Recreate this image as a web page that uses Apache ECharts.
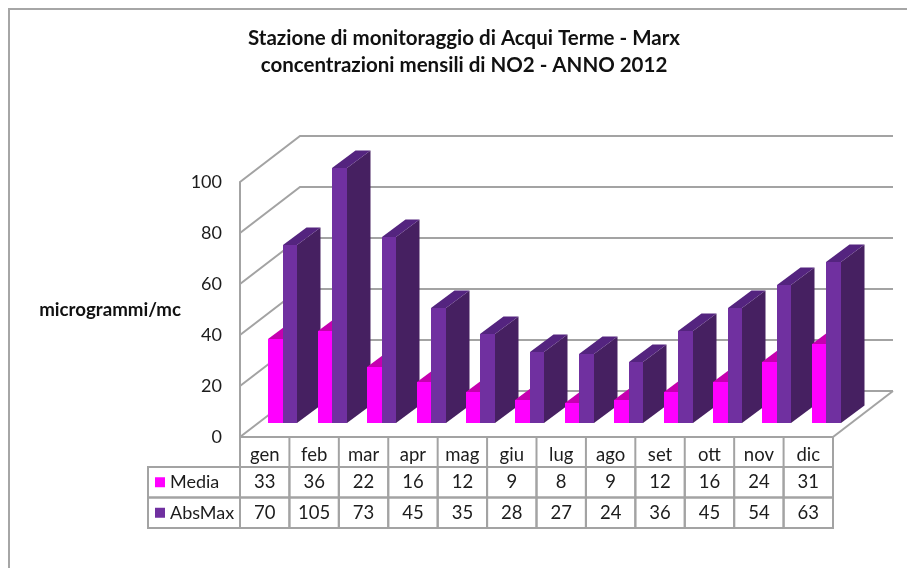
<!DOCTYPE html>
<html>
<head>
<meta charset="utf-8">
<style>html,body{margin:0;padding:0;background:#fff}#chart{width:907px;height:568px}</style>
<script src="https://cdn.jsdelivr.net/npm/echarts@6/dist/echarts.min.js"></script>
</head>
<body>
<div id="chart"></div>
<script>
// Monthly NO2 concentrations, Acqui Terme - Marx station, 2012
const months = ['gen','feb','mar','apr','mag','giu','lug','ago','set','ott','nov','dic'];
const media = [33,36,22,16,12,9,8,9,12,16,24,31];
const absMax = [70,105,73,45,35,28,27,24,36,45,54,63];
const yTicks = [0,20,40,60,80,100];
const titleLines = ['Stazione di monitoraggio di Acqui Terme - Marx','concentrazioni mensili di NO2 - ANNO 2012'];
const yName = 'microgrammi/mc';
const rowNames = ['Media','AbsMax'];

const FONT = 'Lato';
const GREY = '#a3a3a3';
const TEXT = '#1c1c1c';
const AXIS_MAX = 100;

// Depth of the box and of the bars inside it, in pixels
const WALL_DX = 60, WALL_DY = -46;
const BAR_DX = 23.5, BAR_DY = -17.5;
const BAR_LIFT = 14;
const BAR_W = 14.5;
const BAR_START = 28.3;

const PALETTE = {
  Media: {front:'#ff00ff', top:'#c600b0', side:'#b000a0'},
  AbsMax: {front:'#7030a0', top:'#54247f', side:'#462061'}
};

// One prism: front face, then side and top faces receding up and to the right.
// Edges snap to whole pixels so no seam shows between faces.
// Bars taller than the axis are cut off at its maximum.
function barRenderer(name, slot, order) {
  const c = PALETTE[name];
  return function (params, api) {
    const i = api.value(0);
    const v = Math.min(api.value(1), AXIS_MAX);
    const band = api.size([1, 0])[0];
    const start = api.coord([i, 0])[0] - band / 2 + BAR_START + slot * BAR_W;
    const left = Math.round(start);
    const r = Math.round(start + BAR_W);
    const base = Math.round(api.coord([i, 0])[1] - BAR_LIFT);
    const top = Math.round(api.coord([i, v])[1] - BAR_LIFT);
    const z2 = i * 10 + order;
    return {
      type: 'group',
      children: [
        {type:'polygon', z2, shape:{points:[[r,top],[r+BAR_DX,top+BAR_DY],[r+BAR_DX,base+BAR_DY],[r,base]]}, style:{fill:c.side}},
        {type:'polygon', z2, shape:{points:[[left,top],[left+BAR_DX,top+BAR_DY],[r+BAR_DX,top+BAR_DY],[r,top]]}, style:{fill:c.top}},
        {type:'rect', z2, shape:{x:left,y:top,width:r-left,height:base-top}, style:{fill:c.front}}
      ]
    };
  };
}

// Gridlines wrap from the front axis onto the back wall
function renderWall(params, api) {
  const p = api.coord([0, api.value(0)]);
  const band = api.size([1, 0])[0];
  const x0 = p[0] - band / 2;
  const x1 = x0 + band * months.length + WALL_DX;
  return {
    type: 'polyline', z2: -1,
    shape: {points: [[x0, p[1]], [x0 + WALL_DX, p[1] + WALL_DY], [x1, p[1] + WALL_DY]]},
    style: {stroke: GREY, lineWidth: 2, fill: 'none'}
  };
}

// Right edge of the floor
function renderFloorEdge(params, api) {
  const band = api.size([1, 0])[0];
  const p = api.coord([months.length - 1, 0]);
  const x = p[0] + band / 2;
  return {type:'line', z2:-1, shape:{x1:x,y1:p[1],x2:x+WALL_DX,y2:p[1]+WALL_DY}, style:{stroke:GREY,lineWidth:2}};
}

// Data table under the plot
const ROW_TOP = 30, ROW_H = 30.5, HEAD_W = 92;
function renderCell(rowIndex, values) {
  return function (params, api) {
    const i = api.value(0);
    const p = api.coord([i, 0]);
    const band = api.size([1, 0])[0];
    const y = p[1] + ROW_TOP + rowIndex * ROW_H;
    return {
      type: 'group',
      children: [
        {type:'rect', shape:{x:p[0]-band/2,y,width:band,height:ROW_H}, style:{fill:'none',stroke:GREY,lineWidth:2}},
        {type:'text', style:{x:p[0],y:y+ROW_H/2,text:String(values[i]),fill:TEXT,font:'18.5px '+FONT,textAlign:'center',textVerticalAlign:'middle'}}
      ]
    };
  };
}
// Vertical dividers around the month names
function renderDivider(params, api) {
  const i = api.value(0);
  const p = api.coord([i, 0]);
  const band = api.size([1, 0])[0];
  const line = x => ({type:'line', shape:{x1:x,y1:p[1],x2:x,y2:p[1]+ROW_TOP}, style:{stroke:GREY,lineWidth:2}});
  const children = [line(p[0] + band / 2)];
  if (i === 0) children.push(line(p[0] - band / 2));
  return {type:'group', children};
}
// Row headers with colour keys, left of the first month
function renderRowHead(params, api) {
  const p = api.coord([0, 0]);
  const band = api.size([1, 0])[0];
  const x0 = p[0] - band / 2 - HEAD_W;
  const k = api.value(0);
  const y = p[1] + ROW_TOP + k * ROW_H;
  const name = rowNames[k];
  return {
    type: 'group',
    children: [
      {type:'rect', shape:{x:x0,y,width:HEAD_W,height:ROW_H}, style:{fill:'none',stroke:GREY,lineWidth:2}},
      {type:'rect', shape:{x:x0+7,y:y+ROW_H/2-5,width:10,height:10}, style:{fill:PALETTE[name].front}},
      {type:'text', style:{x:x0+22,y:y+ROW_H/2,text:name,fill:TEXT,font:'18px '+FONT,textAlign:'left',textVerticalAlign:'middle'}}
    ]
  };
}

const monthIdx = months.map((m, i) => [i]);
const custom = (renderItem, data) => ({type:'custom', renderItem, data, clip:false, silent:true, animation:false});

const chart = echarts.init(document.getElementById('chart'), null, {renderer:'canvas'});
chart.setOption({
  animation: false,
  backgroundColor: '#fff',
  title: {
    text: titleLines.join('\n'),
    left: 459, top: 20, textAlign: 'center',
    textStyle: {fontFamily: FONT, fontWeight: 'bold', fontSize: 20.5, lineHeight: 27, color: '#111'}
  },
  grid: {left: 240, right: 74, top: 182, bottom: 131},
  xAxis: {
    type: 'category', data: months,
    axisLine: {lineStyle: {color: GREY, width: 2}},
    axisTick: {show: false},
    axisLabel: {fontFamily: FONT, fontSize: 18.5, color: TEXT, margin: 9},
    splitLine: {show: false}
  },
  yAxis: {
    type: 'value', min: 0, max: AXIS_MAX, interval: 20,
    name: yName, nameLocation: 'middle', nameRotate: 0, nameGap: 59,
    nameTextStyle: {fontFamily: FONT, fontWeight: 'bold', fontSize: 18.7, color: '#111'},
    axisLine: {show: true, lineStyle: {color: GREY, width: 2}},
    axisTick: {show: false},
    axisLabel: {fontFamily: FONT, fontSize: 18, color: TEXT, margin: 18},
    splitLine: {show: false}
  },
  graphic: [
    {type:'polyline', silent:true, shape:{points:[[9,568],[9,9],[907,9]]}, style:{stroke:'#a6a6a6',lineWidth:2,fill:'none'}}
  ],
  series: [
    custom(renderWall, yTicks.map(t => [t])),
    custom(renderFloorEdge, [[0]]),
    custom(barRenderer('Media', 0, 0), media.map((v, i) => [i, v])),
    custom(barRenderer('AbsMax', 1, 1), absMax.map((v, i) => [i, v])),
    custom(renderDivider, monthIdx),
    custom(renderCell(0, media), monthIdx),
    custom(renderCell(1, absMax), monthIdx),
    custom(renderRowHead, rowNames.map((n, k) => [k]))
  ]
});
</script>
</body>
</html>
